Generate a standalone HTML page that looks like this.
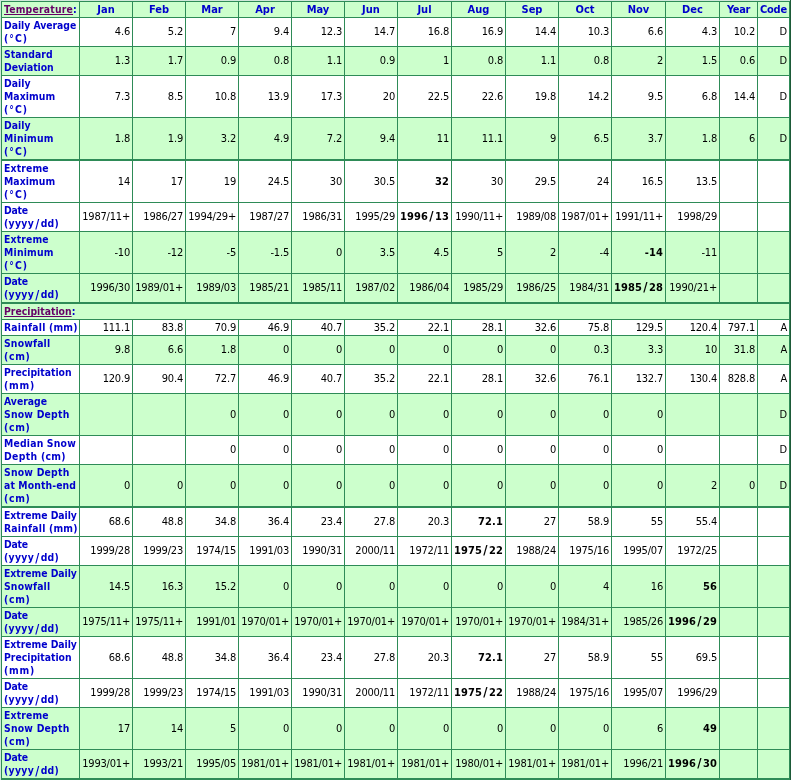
<!DOCTYPE html>
<html lang="en"><head><meta charset="utf-8"><title>Climate Normals</title>
<style>
html,body{margin:0;padding:0;}
body{width:791px;height:780px;overflow:hidden;background:#d1e8db;position:relative;
 font-family:"DejaVu Sans Condensed","Liberation Sans",sans-serif;font-size:11px;line-height:13px;color:#000;}
table{position:absolute;left:1px;top:1px;width:789px;table-layout:fixed;border-collapse:separate;border-spacing:0;
 border-left:1px solid #2e8b57;border-top:1px solid #2e8b57;
 }
th,td{box-sizing:border-box;padding:1px 2px 1px 1px;border-right:1px solid #2e8b57;border-bottom:1px solid #2e8b57;
 vertical-align:middle;overflow:hidden;white-space:nowrap;font-size:11px;line-height:13px;}
td{text-align:right;font-weight:normal;}
th{text-align:center;font-weight:bold;color:#0000cc;}
th.l{text-align:left;padding-left:2px;}
tr.g>*{background:#ccffcc;}
tr.w>*{background:#ffffff;}
tr.h1>*{height:16px;}
tr.h2>*{height:29px;}
tr.h3>*{height:42px;}
tr.tk>*{border-bottom-width:2px;}
tr.tk.h3>*{height:43px;}
tr.tk.h2>*{height:30px;}
a{color:#660066;text-decoration:underline;}
b{font-weight:bold;}
.sx{transform:scaleX(.94);transform-origin:0 50%;width:110%;}
td{letter-spacing:-0.2px;}
a{text-decoration-skip-ink:none;text-underline-offset:1px;text-decoration-thickness:1px;}
body::before{content:"";position:absolute;left:1px;top:779px;width:789px;height:1px;background:#2e8b57;}
body::after{content:"";position:absolute;left:790px;top:0;width:1px;height:780px;background:#1d5a38;}
tr.h2>td{padding-top:0;padding-bottom:2px;}
th{padding-right:1px;}
b{letter-spacing:0.15px;}
i{font-style:normal;margin:0 1.2px;font-size:13px;line-height:0;position:relative;top:0.5px;}
</style></head><body>
<table cellspacing="0" cellpadding="0">
<colgroup><col style="width:78px"><col style="width:53px"><col style="width:53px"><col style="width:53px"><col style="width:53px"><col style="width:53px"><col style="width:53px"><col style="width:54px"><col style="width:54px"><col style="width:53px"><col style="width:53px"><col style="width:54px"><col style="width:54px"><col style="width:38px"><col style="width:32px"></colgroup>
<tr class="g h1"><th class="l"><div class="sx"><a href="#t"><span style="letter-spacing:0.22px">Temperature</span></a>:</div></th><th>Jan</th><th>Feb</th><th>Mar</th><th>Apr</th><th>May</th><th>Jun</th><th>Jul</th><th>Aug</th><th>Sep</th><th>Oct</th><th>Nov</th><th>Dec</th><th><span style="letter-spacing:-0.30px">Year</span></th><th><span style="letter-spacing:-0.25px">Code</span></th></tr>
<tr class="w h2"><th class="l"><div class="sx"><span style="letter-spacing:-0.04px">Daily Average</span><br><span style="letter-spacing:1.10px">(°C)</span></div></th><td>4.6</td><td>5.2</td><td>7</td><td>9.4</td><td>12.3</td><td>14.7</td><td>16.8</td><td>16.9</td><td>14.4</td><td>10.3</td><td>6.6</td><td>4.3</td><td>10.2</td><td>D</td></tr>
<tr class="g h2"><th class="l"><div class="sx"><span style="letter-spacing:0.05px">Standard</span><br><span style="letter-spacing:-0.08px">Deviation</span></div></th><td>1.3</td><td>1.7</td><td>0.9</td><td>0.8</td><td>1.1</td><td>0.9</td><td>1</td><td>0.8</td><td>1.1</td><td>0.8</td><td>2</td><td>1.5</td><td>0.6</td><td>D</td></tr>
<tr class="w h3"><th class="l"><div class="sx"><span style="letter-spacing:0.05px">Daily</span><br><span style="letter-spacing:0.06px">Maximum</span><br><span style="letter-spacing:1.10px">(°C)</span></div></th><td>7.3</td><td>8.5</td><td>10.8</td><td>13.9</td><td>17.3</td><td>20</td><td>22.5</td><td>22.6</td><td>19.8</td><td>14.2</td><td>9.5</td><td>6.8</td><td>14.4</td><td>D</td></tr>
<tr class="g h3 tk"><th class="l"><div class="sx"><span style="letter-spacing:0.05px">Daily</span><br><span style="letter-spacing:0.23px">Minimum</span><br><span style="letter-spacing:1.10px">(°C)</span></div></th><td>1.8</td><td>1.9</td><td>3.2</td><td>4.9</td><td>7.2</td><td>9.4</td><td>11</td><td>11.1</td><td>9</td><td>6.5</td><td>3.7</td><td>1.8</td><td>6</td><td>D</td></tr>
<tr class="w h3"><th class="l"><div class="sx"><span style="letter-spacing:0.17px">Extreme</span><br><span style="letter-spacing:0.06px">Maximum</span><br><span style="letter-spacing:1.10px">(°C)</span></div></th><td>14</td><td>17</td><td>19</td><td>24.5</td><td>30</td><td>30.5</td><td><b>32</b></td><td>30</td><td>29.5</td><td>24</td><td>16.5</td><td>13.5</td><td></td><td></td></tr>
<tr class="w h2"><th class="l"><div class="sx"><span style="letter-spacing:-0.21px">Date</span><br><span style="letter-spacing:0.33px">(yyyy<i>/</i>dd)</span></div></th><td>1987/11+</td><td>1986/27</td><td>1994/29+</td><td>1987/27</td><td>1986/31</td><td>1995/29</td><td><b>1996<i>/</i>13</b></td><td>1990/11+</td><td>1989/08</td><td>1987/01+</td><td>1991/11+</td><td>1998/29</td><td></td><td></td></tr>
<tr class="g h3"><th class="l"><div class="sx"><span style="letter-spacing:0.17px">Extreme</span><br><span style="letter-spacing:0.23px">Minimum</span><br><span style="letter-spacing:1.10px">(°C)</span></div></th><td>-10</td><td>-12</td><td>-5</td><td>-1.5</td><td>0</td><td>3.5</td><td>4.5</td><td>5</td><td>2</td><td>-4</td><td><b>-14</b></td><td>-11</td><td></td><td></td></tr>
<tr class="g h2 tk"><th class="l"><div class="sx"><span style="letter-spacing:-0.21px">Date</span><br><span style="letter-spacing:0.33px">(yyyy<i>/</i>dd)</span></div></th><td>1996/30</td><td>1989/01+</td><td>1989/03</td><td>1985/21</td><td>1985/11</td><td>1987/02</td><td>1986/04</td><td>1985/29</td><td>1986/25</td><td>1984/31</td><td><b>1985<i>/</i>28</b></td><td>1990/21+</td><td></td><td></td></tr>
<tr class="g h1"><th class="l" colspan="15"><div class="sx"><a href="#p">Precipitation</a>:</div></th></tr>
<tr class="w h1"><th class="l"><div class="sx"><span style="letter-spacing:0.21px">Rainfall (mm)</span></div></th><td>111.1</td><td>83.8</td><td>70.9</td><td>46.9</td><td>40.7</td><td>35.2</td><td>22.1</td><td>28.1</td><td>32.6</td><td>75.8</td><td>129.5</td><td>120.4</td><td>797.1</td><td>A</td></tr>
<tr class="g h2"><th class="l"><div class="sx"><span style="letter-spacing:0.17px">Snowfall</span><br><span style="letter-spacing:0.74px">(cm)</span></div></th><td>9.8</td><td>6.6</td><td>1.8</td><td>0</td><td>0</td><td>0</td><td>0</td><td>0</td><td>0</td><td>0.3</td><td>3.3</td><td>10</td><td>31.8</td><td>A</td></tr>
<tr class="w h2"><th class="l"><div class="sx">Precipitation<br><span style="letter-spacing:0.86px">(mm)</span></div></th><td>120.9</td><td>90.4</td><td>72.7</td><td>46.9</td><td>40.7</td><td>35.2</td><td>22.1</td><td>28.1</td><td>32.6</td><td>76.1</td><td>132.7</td><td>130.4</td><td>828.8</td><td>A</td></tr>
<tr class="g h3"><th class="l"><div class="sx">Average<br><span style="letter-spacing:0.23px">Snow Depth</span><br><span style="letter-spacing:0.74px">(cm)</span></div></th><td></td><td></td><td>0</td><td>0</td><td>0</td><td>0</td><td>0</td><td>0</td><td>0</td><td>0</td><td>0</td><td></td><td></td><td>D</td></tr>
<tr class="w h2"><th class="l"><div class="sx"><span style="letter-spacing:0.20px">Median Snow</span><br><span style="letter-spacing:0.34px">Depth (cm)</span></div></th><td></td><td></td><td>0</td><td>0</td><td>0</td><td>0</td><td>0</td><td>0</td><td>0</td><td>0</td><td>0</td><td></td><td></td><td>D</td></tr>
<tr class="g h3 tk"><th class="l"><div class="sx"><span style="letter-spacing:0.23px">Snow Depth</span><br><span style="letter-spacing:0.12px">at Month-end</span><br><span style="letter-spacing:0.74px">(cm)</span></div></th><td>0</td><td>0</td><td>0</td><td>0</td><td>0</td><td>0</td><td>0</td><td>0</td><td>0</td><td>0</td><td>0</td><td>2</td><td>0</td><td>D</td></tr>
<tr class="w h2"><th class="l"><div class="sx"><span style="letter-spacing:-0.04px">Extreme Daily</span><br><span style="letter-spacing:0.21px">Rainfall (mm)</span></div></th><td>68.6</td><td>48.8</td><td>34.8</td><td>36.4</td><td>23.4</td><td>27.8</td><td>20.3</td><td><b>72.1</b></td><td>27</td><td>58.9</td><td>55</td><td>55.4</td><td></td><td></td></tr>
<tr class="w h2"><th class="l"><div class="sx"><span style="letter-spacing:-0.21px">Date</span><br><span style="letter-spacing:0.33px">(yyyy<i>/</i>dd)</span></div></th><td>1999/28</td><td>1999/23</td><td>1974/15</td><td>1991/03</td><td>1990/31</td><td>2000/11</td><td>1972/11</td><td><b>1975<i>/</i>22</b></td><td>1988/24</td><td>1975/16</td><td>1995/07</td><td>1972/25</td><td></td><td></td></tr>
<tr class="g h3"><th class="l"><div class="sx"><span style="letter-spacing:-0.04px">Extreme Daily</span><br><span style="letter-spacing:0.17px">Snowfall</span><br><span style="letter-spacing:0.74px">(cm)</span></div></th><td>14.5</td><td>16.3</td><td>15.2</td><td>0</td><td>0</td><td>0</td><td>0</td><td>0</td><td>0</td><td>4</td><td>16</td><td><b>56</b></td><td></td><td></td></tr>
<tr class="g h2"><th class="l"><div class="sx"><span style="letter-spacing:-0.21px">Date</span><br><span style="letter-spacing:0.33px">(yyyy<i>/</i>dd)</span></div></th><td>1975/11+</td><td>1975/11+</td><td>1991/01</td><td>1970/01+</td><td>1970/01+</td><td>1970/01+</td><td>1970/01+</td><td>1970/01+</td><td>1970/01+</td><td>1984/31+</td><td>1985/26</td><td><b>1996<i>/</i>29</b></td><td></td><td></td></tr>
<tr class="w h3"><th class="l"><div class="sx"><span style="letter-spacing:-0.04px">Extreme Daily</span><br>Precipitation<br><span style="letter-spacing:0.86px">(mm)</span></div></th><td>68.6</td><td>48.8</td><td>34.8</td><td>36.4</td><td>23.4</td><td>27.8</td><td>20.3</td><td><b>72.1</b></td><td>27</td><td>58.9</td><td>55</td><td>69.5</td><td></td><td></td></tr>
<tr class="w h2"><th class="l"><div class="sx"><span style="letter-spacing:-0.21px">Date</span><br><span style="letter-spacing:0.33px">(yyyy<i>/</i>dd)</span></div></th><td>1999/28</td><td>1999/23</td><td>1974/15</td><td>1991/03</td><td>1990/31</td><td>2000/11</td><td>1972/11</td><td><b>1975<i>/</i>22</b></td><td>1988/24</td><td>1975/16</td><td>1995/07</td><td>1996/29</td><td></td><td></td></tr>
<tr class="g h3"><th class="l"><div class="sx"><span style="letter-spacing:0.17px">Extreme</span><br><span style="letter-spacing:0.23px">Snow Depth</span><br><span style="letter-spacing:0.74px">(cm)</span></div></th><td>17</td><td>14</td><td>5</td><td>0</td><td>0</td><td>0</td><td>0</td><td>0</td><td>0</td><td>0</td><td>6</td><td><b>49</b></td><td></td><td></td></tr>
<tr class="g h2"><th class="l"><div class="sx"><span style="letter-spacing:-0.21px">Date</span><br><span style="letter-spacing:0.33px">(yyyy<i>/</i>dd)</span></div></th><td>1993/01+</td><td>1993/21</td><td>1995/05</td><td>1981/01+</td><td>1981/01+</td><td>1981/01+</td><td>1981/01+</td><td>1980/01+</td><td>1981/01+</td><td>1981/01+</td><td>1996/21</td><td><b>1996<i>/</i>30</b></td><td></td><td></td></tr>
</table>
</body></html>
